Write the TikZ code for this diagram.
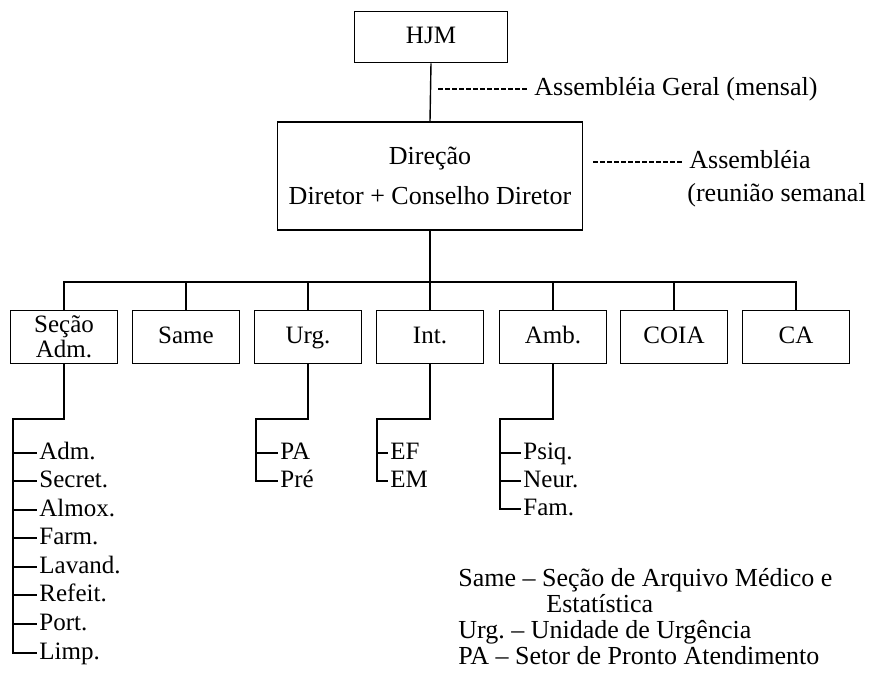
\documentclass[tikz,border=0pt]{standalone}
\usepackage{fontspec}
\setmainfont{Liberation Serif}
\frenchspacing
\begin{document}
\begin{tikzpicture}[x=0.5pt,y=-0.5pt]
  \tikzset{box style/.style = {draw, line width=0.8pt, minimum width=53.5pt, minimum height=26.5pt, inner sep=1pt, align=center, font=\fontsize{12.5}{11}\selectfont},
           one line/.style = {text height=8.5pt, text depth=2.5pt},
           item style/.style = {anchor=west, inner sep=1pt, text height=8.5pt, text depth=2.5pt, font=\fontsize{12.5}{14}\selectfont},
           note style/.style = {anchor=west, inner sep=0.5pt, text height=8.5pt, text depth=2.5pt, font=\fontsize{13}{15}\selectfont},
           dash style/.style = {line width=0.6pt, dash pattern=on 2.5pt off 1pt}}
  \useasboundingbox (0,0) rectangle (873,686);
  \node[box style, one line, minimum width=76.5pt, minimum height=25.5pt] (hjm) at (431,37) {HJM};
  \node[box style, minimum width=152.5pt, minimum height=54pt, font=\fontsize{13}{15}\selectfont] (dir) at (430,176) {Direção\\[5pt]Diretor + Conselho Diretor};

  \node[box style] (sec) at (64,337) {Seção\\Adm.};
  \node[box style, one line] (same) at (186,337) {Same};
  \node[box style, one line] (urg) at (308,337) {Urg.};
  \node[box style, one line] (int) at (430,337) {Int.};
  \node[box style, one line] (amb) at (553,337) {Amb.};
  \node[box style, one line] (coia) at (674,337) {COIA};
  \node[box style, one line] (ca) at (796,337) {CA};

  \coordinate (trunk) at (430,282);
  \draw[line width=0.7pt] (hjm.south) -- (dir.north);
  \draw[line width=0.7pt] (dir.south) -- (trunk);
  \draw[line width=0.7pt] (sec.north) -- (sec.north |- trunk) -- (ca.north |- trunk) -- (ca.north);
  \draw[line width=0.7pt] (same.north) -- (same.north |- trunk);
  \draw[line width=0.7pt] (urg.north) -- (urg.north |- trunk);
  \draw[line width=0.7pt] (int.north) -- (int.north |- trunk);
  \draw[line width=0.7pt] (amb.north) -- (amb.north |- trunk);
  \draw[line width=0.7pt] (coia.north) -- (coia.north |- trunk);

  % assembleias
  \coordinate (ag) at (438,89);
  \node[note style] (agtext) at (533,89) {Assembléia Geral (mensal)};
  \draw[dash style] (ag) -- ([xshift=-3pt]agtext.west);
  \coordinate (asm) at (593,162);
  \node[note style] (asmtext) at (688,162) {Assembléia};
  \node[note style] (reuniao) at (686,195) {(reunião semanal};
  \draw[dash style] (asm) -- ([xshift=-3pt]asmtext.west);

  % secao adm.
  \coordinate (secK) at (13,419);
  \node[item style] (adm) at (37,453) {Adm.};
  \node[item style] (secr) at (37,481) {Secret.};
  \node[item style] (almox) at (37,510) {Almox.};
  \node[item style] (farm) at (37,538) {Farm.};
  \node[item style] (lavand) at (37,567) {Lavand.};
  \node[item style] (refeit) at (37,595) {Refeit.};
  \node[item style] (port) at (37,624) {Port.};
  \node[item style] (limp) at (37,653) {Limp.};
  \draw[line width=0.7pt] (sec.south) |- (secK) |- (limp.west);
  \draw[line width=0.7pt] (secK |- adm.west) -- (adm.west);
  \draw[line width=0.7pt] (secK |- secr.west) -- (secr.west);
  \draw[line width=0.7pt] (secK |- almox.west) -- (almox.west);
  \draw[line width=0.7pt] (secK |- farm.west) -- (farm.west);
  \draw[line width=0.7pt] (secK |- lavand.west) -- (lavand.west);
  \draw[line width=0.7pt] (secK |- refeit.west) -- (refeit.west);
  \draw[line width=0.7pt] (secK |- port.west) -- (port.west);

  % urg.
  \coordinate (urgK) at (256,419);
  \node[item style] (pa) at (278,453) {PA};
  \node[item style] (pre) at (278,481) {Pré};
  \draw[line width=0.7pt] (urg.south) |- (urgK) |- (pre.west);
  \draw[line width=0.7pt] (urgK |- pa.west) -- (pa.west);

  % int.
  \coordinate (intK) at (377,419);
  \node[item style] (ef) at (388,453) {EF};
  \node[item style] (em) at (388,481) {EM};
  \draw[line width=0.7pt] (int.south) |- (intK) |- (em.west);
  \draw[line width=0.7pt] (intK |- ef.west) -- (ef.west);

  % amb.
  \coordinate (ambK) at (500,419);
  \node[item style] (psiq) at (521,453) {Psiq.};
  \node[item style] (neur) at (521,481) {Neur.};
  \node[item style] (fam) at (521,509) {Fam.};
  \draw[line width=0.7pt] (amb.south) |- (ambK) |- (fam.west);
  \draw[line width=0.7pt] (ambK |- psiq.west) -- (psiq.west);
  \draw[line width=0.7pt] (ambK |- neur.west) -- (neur.west);

  % legenda
  \node[note style] (legsame) at (457,580) {Same -- Seção de Arquivo Médico e};
  \node[note style] (legest) at (545,606) {Estatística};
  \node[note style] (legurg) at (457,632) {Urg. -- Unidade de Urgência};
  \node[note style] (legpa) at (457,658) {PA -- Setor de Pronto Atendimento};
\end{tikzpicture}
\end{document}
